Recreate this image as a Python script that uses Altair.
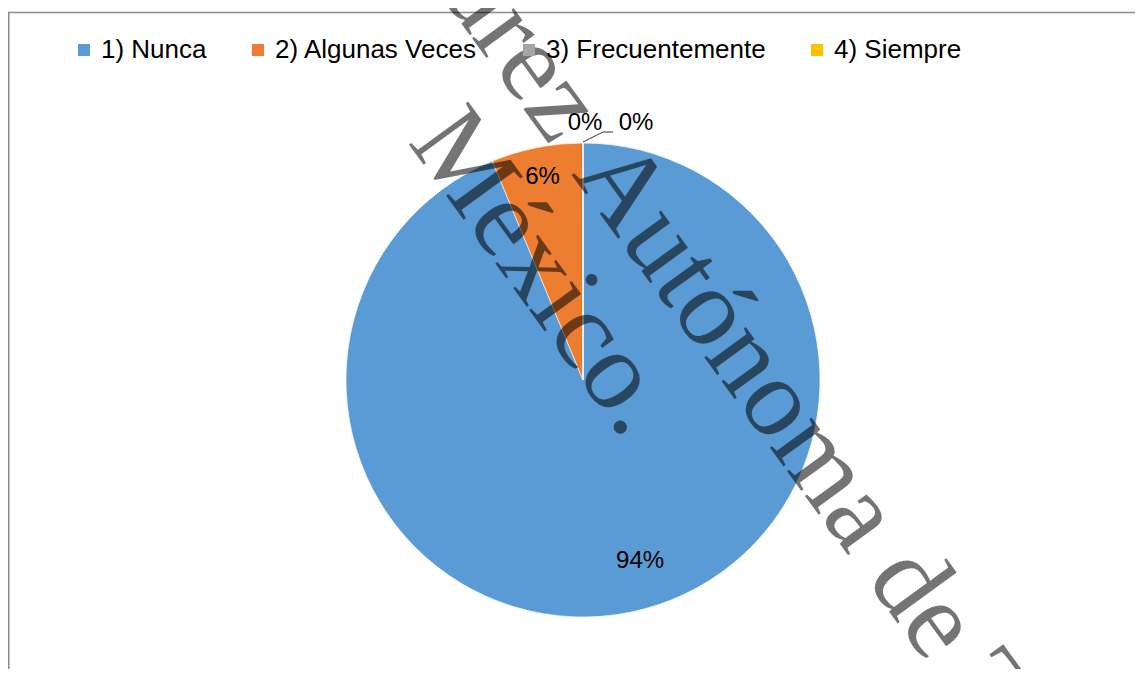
import altair as alt
import pandas as pd

# ---- data ----
categorias = ["1) Nunca", "2) Algunas Veces", "3) Frecuentemente", "4) Siempre"]
valores = [93.75, 6.25, 0, 0]
orden = [1, 2, 3, 4]
colores = ["#5B9BD5", "#ED7D31", "#A5A5A5", "#FFC000"]

df = pd.DataFrame({"categoria": categorias, "valor": valores, "orden": orden})
total = sum(valores)

# ---- layout ----
W, H = 1127, 661
CX, CY = 575, 372
R = 237
FONT = "Liberation Sans"

theta_scale = alt.Scale(domain=[0, total])

legend = alt.Legend(
    title=None, orient="none", legendX=63, legendY=29, direction="horizontal",
    symbolType="square", symbolSize=144, symbolStrokeWidth=0,
    labelFont=FONT, labelFontSize=26, labelColor="#000000", labelOffset=4,
    columnPadding=38, padding=0, labelLimit=600,
)

color = alt.Color("categoria:N", sort=categorias,
                  scale=alt.Scale(domain=categorias, range=colores), legend=legend)

arcs = alt.Chart(df).mark_arc(outerRadius=R, stroke="white", strokeWidth=0.6).encode(
    theta=alt.Theta("valor:Q", stack=True, scale=theta_scale),
    order=alt.Order("orden:Q"),
    color=color,
    x=alt.value(CX), y=alt.value(CY),
)

lab_base = alt.Chart(df).transform_window(
    cum="sum(valor)", sort=[alt.SortField("orden")], frame=[None, 0]
).transform_calculate(
    mid="datum.cum - datum.valor / 2", pct="datum.valor / 100"
)


def label(cat, radius, dx):
    return lab_base.transform_filter(alt.datum.categoria == cat).mark_text(
        font=FONT, fontSize=24, color="black", dx=dx
    ).encode(
        theta=alt.Theta("mid:Q", stack=None, scale=theta_scale),
        radius=alt.value(radius),
        text=alt.Text("pct:Q", format=".0%"),
        x=alt.value(CX), y=alt.value(CY),
    )


labels = [
    label(categorias[0], 185, 21),
    label(categorias[1], 207, 0),
    label(categorias[2], 257, 2),
    label(categorias[3], 257, 53),
]

one = alt.Data(values=[{"k": 1}])

leader1 = alt.Chart(one).mark_rule(color="black", strokeWidth=0.8).encode(
    x=alt.value(575), y=alt.value(134), x2=alt.value(595), y2=alt.value(124))
leader2 = alt.Chart(one).mark_rule(color="black", strokeWidth=0.8).encode(
    x=alt.value(595), y=alt.value(124), x2=alt.value(605), y2=alt.value(124))

border = alt.Chart(one).mark_rect(fillOpacity=0, stroke="#8a8a8a", strokeWidth=1.5).encode(
    x=alt.value(0.75), y=alt.value(4.5), x2=alt.value(1300), y2=alt.value(900))


def watermark(text, x, y, align):
    return alt.Chart(one).mark_text(
        font="Liberation Serif", fontSize=112, color="black", opacity=0.54,
        angle=54, align=align, baseline="alphabetic"
    ).encode(x=alt.value(x), y=alt.value(y), text=alt.value(text))


wm = [
    watermark("Universidad Juárez", 543, 139, "right"),
    watermark("Autónoma de Tabasco.", 563, 166, "left"),
    watermark("México.", 399, 134, "left"),
]

chart = alt.layer(arcs, *labels, leader1, leader2, border, *wm).properties(
    width=W, height=H,
    autosize=alt.AutoSizeParams(type="none"),
    padding=0,
).configure_view(stroke=None)

chart.save("out.html", embed_options={"renderer": "svg", "actions": False})
